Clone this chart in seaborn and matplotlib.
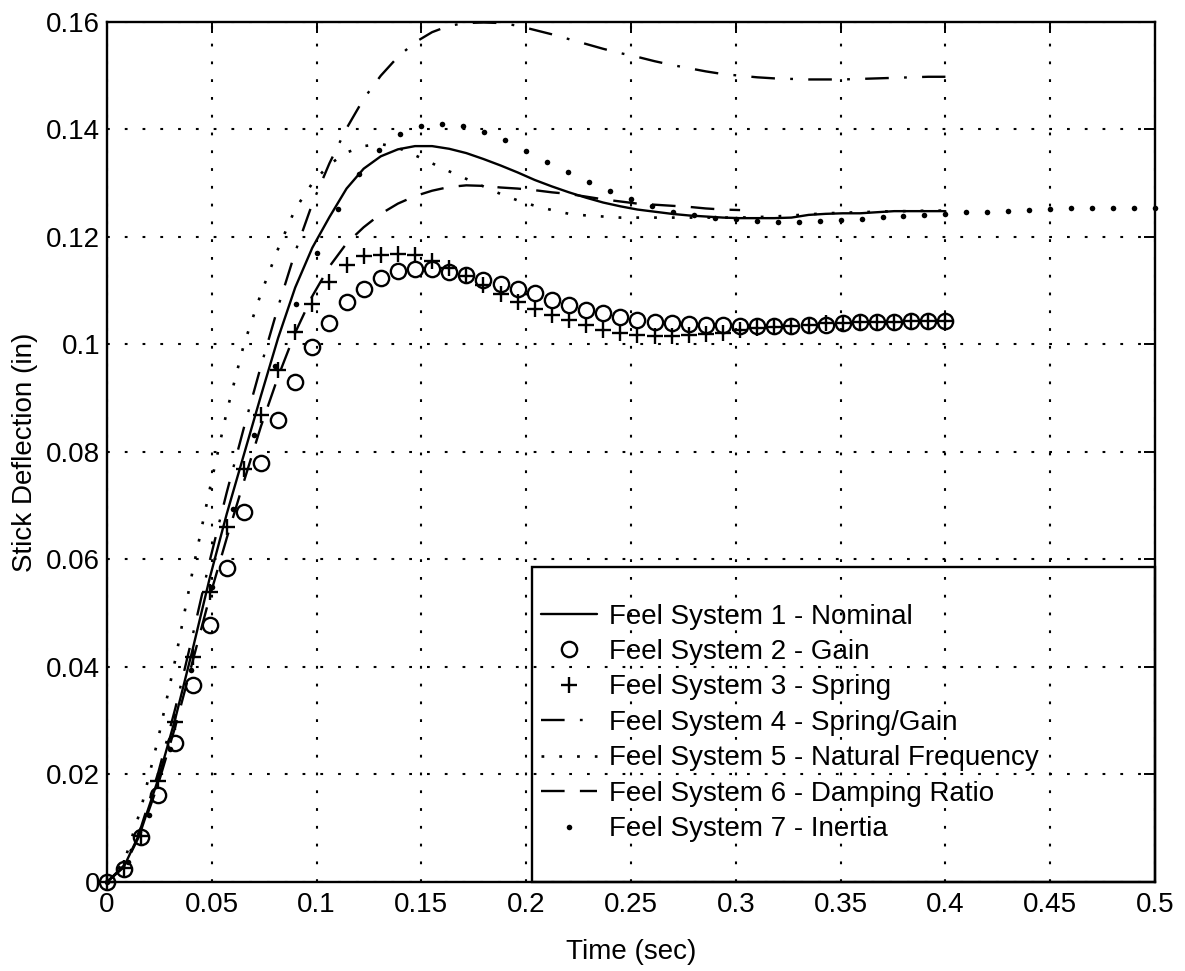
import numpy as np
import pandas as pd
import matplotlib
matplotlib.use("Agg")
import matplotlib.pyplot as plt
from matplotlib.patches import Rectangle
from matplotlib.ticker import FuncFormatter
import seaborn as sns

# Time bases (s)
t_sim = np.linspace(0.0, 0.4, 50)      # feel systems 1-6
t_inertia = np.linspace(0.0, 0.5, 51)  # feel system 7

# Stick deflection (in) for each feel system
nominal = [0.0, 0.0029, 0.0097, 0.0192, 0.0305, 0.0432, 0.0565, 0.0685, 0.0795, 0.0905,
           0.1012, 0.1106, 0.1180, 0.1237, 0.1290, 0.1327, 0.1350, 0.1363, 0.1369, 0.1369,
           0.1364, 0.1356, 0.1345, 0.1333, 0.1320, 0.1306, 0.1294, 0.1283, 0.1273, 0.1264,
           0.1257, 0.1251, 0.1247, 0.1243, 0.1240, 0.1238, 0.1236, 0.1235, 0.1235, 0.1235,
           0.1236, 0.1241, 0.1243, 0.1244, 0.1244, 0.1246, 0.1248, 0.1248, 0.1248, 0.1248]

gain = [0.0, 0.0025, 0.0084, 0.0162, 0.0258, 0.0367, 0.0478, 0.0584, 0.0689, 0.0779,
        0.0860, 0.0931, 0.0996, 0.1039, 0.1079, 0.1104, 0.1123, 0.1136, 0.1140, 0.1140,
        0.1135, 0.1129, 0.1120, 0.1113, 0.1104, 0.1095, 0.1082, 0.1073, 0.1064, 0.1058,
        0.1051, 0.1045, 0.1042, 0.1039, 0.1038, 0.1037, 0.1036, 0.1035, 0.1035, 0.1035,
        0.1035, 0.1036, 0.1037, 0.1040, 0.1041, 0.1042, 0.1042, 0.1043, 0.1043, 0.1043]

spring = [0.0, 0.0026, 0.0086, 0.0187, 0.0298, 0.0419, 0.0540, 0.0661, 0.0769, 0.0869,
          0.0953, 0.1024, 0.1076, 0.1117, 0.1148, 0.1165, 0.1167, 0.1168, 0.1166, 0.1156,
          0.1143, 0.1128, 0.1111, 0.1094, 0.1079, 0.1066, 0.1054, 0.1046, 0.1036, 0.1027,
          0.1021, 0.1017, 0.1016, 0.1016, 0.1017, 0.1020, 0.1022, 0.1026, 0.1030, 0.1033,
          0.1035, 0.1037, 0.1039, 0.1040, 0.1041, 0.1042, 0.1042, 0.1043, 0.1043, 0.1043]

spring_gain = [0.0, 0.0031, 0.0103, 0.0204, 0.0324, 0.0458, 0.0597, 0.0725, 0.0845, 0.0960,
               0.1070, 0.1172, 0.1262, 0.1337, 0.1402, 0.1457, 0.1500, 0.1535, 0.1562, 0.1581,
               0.1593, 0.1598, 0.1599, 0.1598, 0.1593, 0.1585, 0.1577, 0.1568, 0.1559, 0.1550,
               0.1542, 0.1535, 0.1527, 0.1520, 0.1514, 0.1508, 0.1503, 0.1500, 0.1497, 0.1495,
               0.1494, 0.1493, 0.1493, 0.1493, 0.1494, 0.1495, 0.1496, 0.1497, 0.1498, 0.1498]

natural_freq = [0.0, 0.0037, 0.0138, 0.0268, 0.0415, 0.0578, 0.0730, 0.0875, 0.1000, 0.1095,
                0.1178, 0.1252, 0.1300, 0.1335, 0.1357, 0.1369, 0.1373, 0.1366, 0.1352, 0.1337,
                0.1322, 0.1308, 0.1294, 0.1280, 0.1268, 0.1258, 0.1250, 0.1243, 0.1240, 0.1238,
                0.1236, 0.1236, 0.1236, 0.1236, 0.1236, 0.1236, 0.1236, 0.1236, 0.1237, 0.1238,
                0.1240, 0.1242, 0.1244, 0.1245, 0.1246, 0.1247, 0.1248, 0.1248, 0.1249, 0.1249]

damping = [0.0, 0.0028, 0.0093, 0.0183, 0.0290, 0.0410, 0.0530, 0.0640, 0.0745, 0.0848,
           0.0940, 0.1022, 0.1090, 0.1145, 0.1188, 0.1218, 0.1243, 0.1262, 0.1276, 0.1286,
           0.1293, 0.1296, 0.1295, 0.1292, 0.1290, 0.1287, 0.1283, 0.1280, 0.1275, 0.1270,
           0.1266, 0.1262, 0.1260, 0.1258, 0.1256, 0.1253, 0.1251, 0.1250]

inertia = [0.0, 0.0038, 0.0125, 0.0248, 0.0395, 0.0548, 0.0693, 0.0832, 0.0960, 0.1075,
           0.1170, 0.1252, 0.1318, 0.1362, 0.1392, 0.1406, 0.1411, 0.1406, 0.1396, 0.1380,
           0.1360, 0.1340, 0.1321, 0.1302, 0.1285, 0.1270, 0.1257, 0.1247, 0.1240, 0.1236,
           0.1233, 0.1230, 0.1228, 0.1228, 0.1229, 0.1232, 0.1234, 0.1237, 0.1239, 0.1241,
           0.1243, 0.1246, 0.1247, 0.1249, 0.1251, 0.1252, 0.1253, 0.1253, 0.1253, 0.1253,
           0.1253]

labels = ["Feel System 1 - Nominal",
          "Feel System 2 - Gain",
          "Feel System 3 - Spring",
          "Feel System 4 - Spring/Gain",
          "Feel System 5 - Natural Frequency",
          "Feel System 6 - Damping Ratio",
          "Feel System 7 - Inertia"]

x_ticks = [0, 0.05, 0.1, 0.15, 0.2, 0.25, 0.3, 0.35, 0.4, 0.45, 0.5]
y_ticks = [0, 0.02, 0.04, 0.06, 0.08, 0.1, 0.12, 0.14, 0.16]

sns.set_theme(style="white")
plt.rcParams["font.family"] = ["Liberation Sans", "DejaVu Sans"]
plt.rcParams["lines.scale_dashes"] = False

FS = 20
k = "black"
lw = 1.7
dotted = (0, (2.0, 10.8))

fig = plt.figure(figsize=(11.85, 9.71), dpi=100)
ax = fig.add_axes([0.0903, 0.0917, 0.8844, 0.8857])

sns.lineplot(x=t_sim, y=nominal, ax=ax, color=k, lw=lw, label=labels[0],
             estimator=None, sort=False)
sns.lineplot(x=t_sim, y=gain, ax=ax, color=k, linestyle="none", marker="o",
             markersize=11, markerfacecolor="none", markeredgecolor=k,
             markeredgewidth=1.7, label=labels[1], estimator=None, sort=False,
             clip_on=False)
sns.lineplot(x=t_sim, y=spring, ax=ax, color=k, linestyle="none", marker="+",
             markersize=12, markeredgecolor=k, markeredgewidth=1.7,
             label=labels[2], estimator=None, sort=False, clip_on=False)
sns.lineplot(x=t_sim, y=spring_gain, ax=ax, color=k, lw=lw,
             linestyle=(0, (17, 11, 2, 11)), label=labels[3],
             estimator=None, sort=False)
sns.lineplot(x=t_sim, y=natural_freq, ax=ax, color=k, lw=1.9,
             linestyle=dotted, label=labels[4], estimator=None, sort=False)
sns.lineplot(x=t_sim[:len(damping)], y=damping, ax=ax, color=k, lw=lw,
             linestyle=(0, (17, 11)), label=labels[5],
             estimator=None, sort=False)
sns.lineplot(x=t_inertia, y=inertia, ax=ax, color=k, linestyle="none", marker="o",
             markersize=4.0, markerfacecolor=k, markeredgecolor=k,
             markeredgewidth=0, label=labels[6], estimator=None, sort=False,
             clip_on=False)

ax.set_xlim(0, 0.5)
ax.set_ylim(0, 0.16)
ax.set_xticks(x_ticks)
ax.set_yticks(y_ticks)
fmt = FuncFormatter(lambda v, p: "%g" % round(v, 4))
ax.xaxis.set_major_formatter(fmt)
ax.yaxis.set_major_formatter(fmt)

ax.grid(True, color=k, linestyle=dotted, linewidth=1.5)
ax.tick_params(direction="in", length=8, width=1.4, top=True, right=True,
               labelsize=FS, colors=k)
ax.tick_params(axis="x", pad=7)
ax.tick_params(axis="y", pad=5)
for s in ax.spines.values():
    s.set_visible(True)
    s.set_color(k)
    s.set_linewidth(1.7)

ax.set_xlabel("Time (sec)", fontsize=FS, color=k, labelpad=15)
ax.set_ylabel("Stick Deflection (in)", fontsize=FS, color=k, labelpad=6)

# Legend box spanning the lower-right corner of the axes
box_x0, box_h = 0.4055, 0.3663
ax.add_patch(Rectangle((box_x0, 0.0), 1.0 - box_x0, box_h, transform=ax.transAxes,
                       fill=False, edgecolor=k, linewidth=1.7, zorder=5,
                       clip_on=False))
leg = ax.legend(loc="center left", bbox_to_anchor=(0.4141, 0.1849),
                fontsize=FS, frameon=False, borderpad=0.0, labelspacing=0.34,
                handlelength=2.0, handletextpad=0.45, borderaxespad=0.0)
for txt in leg.get_texts():
    txt.set_color(k)

fig.savefig("out.png", dpi=100, facecolor="white")
